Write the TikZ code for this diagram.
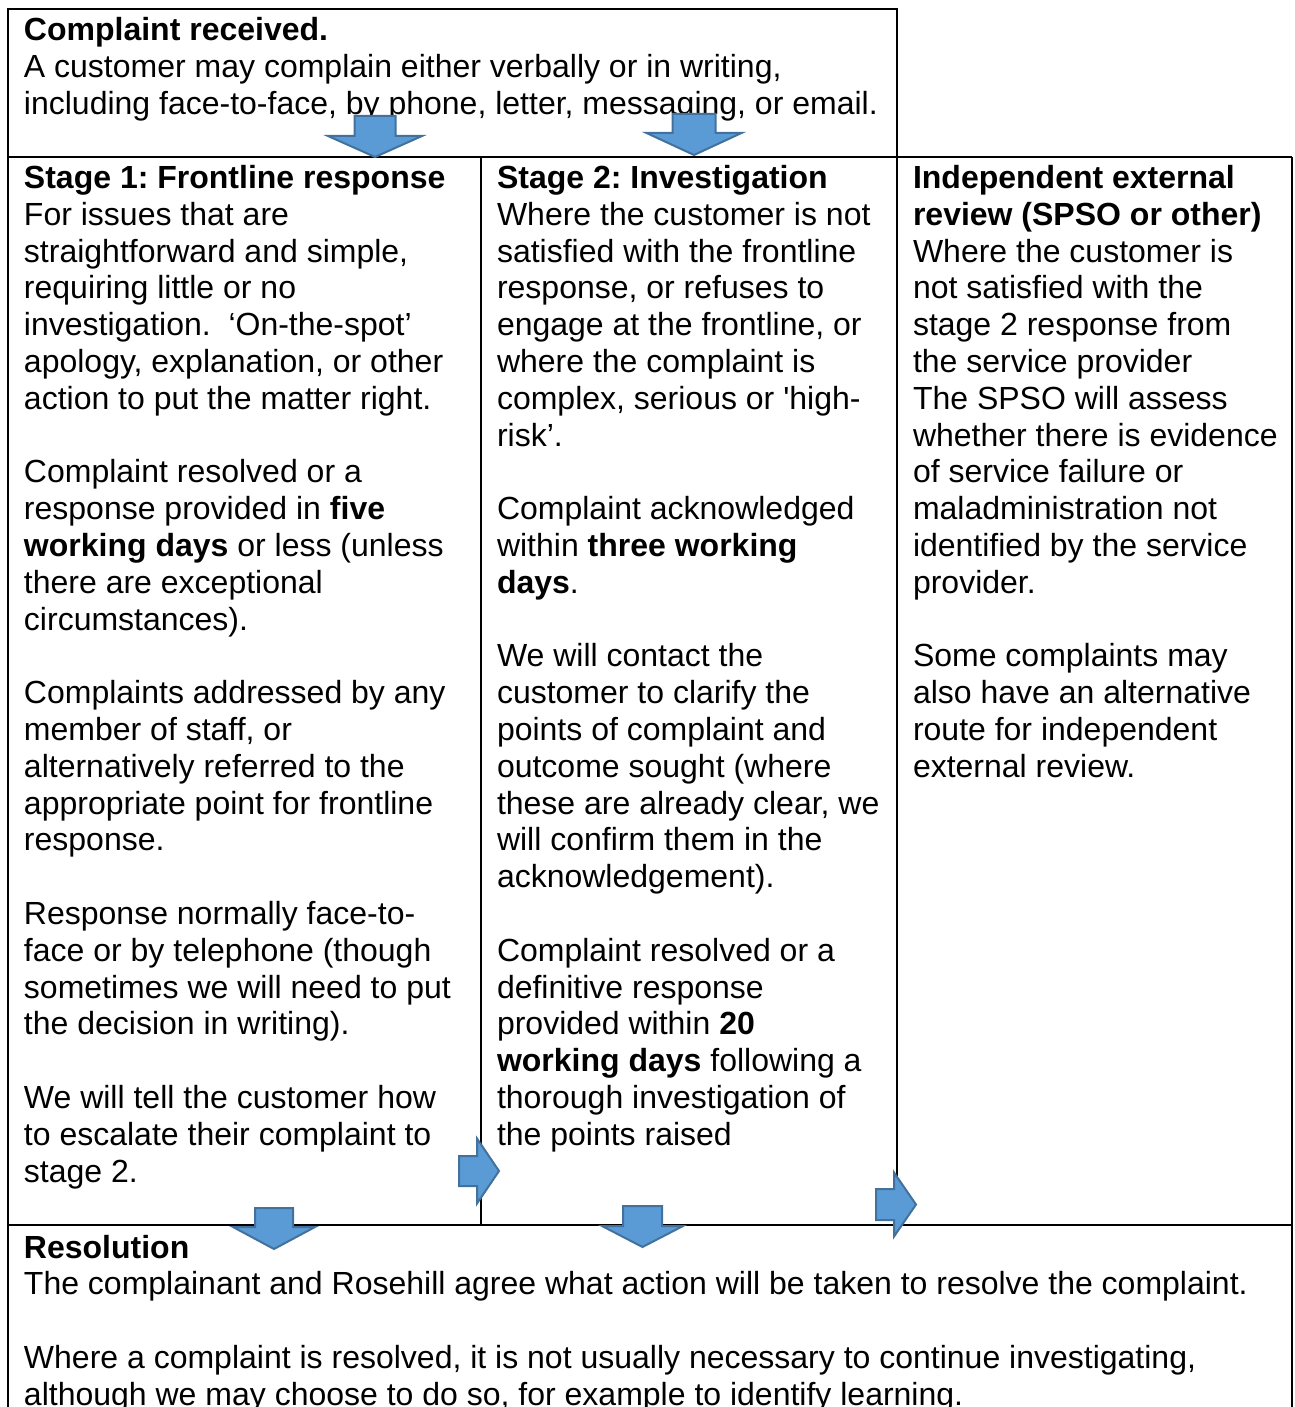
\documentclass[tikz,border=0pt]{standalone}
\usepackage{fontspec}
\setmainfont{Liberation Sans}
\frenchspacing
\definecolor{arrowfill}{HTML}{5B9BD5}
\definecolor{arrowline}{HTML}{41719C}

\begin{document}
\begin{tikzpicture}[x=0.375pt,y=-0.375pt,line width=0.75pt]
	\def \lsk{36.8}
	\def \toprow{41}
	\def \stagerow{188.5}
	\def \resrow{1258}
	\def \colone{23}
	\def \coltwo{496}
	\def \colthree{912}
	% base west sits on the last line, so count lines down from the first baseline
	\tikzstyle{txt}=[anchor=base west,inner sep=0pt,align=left,font=\fontsize{12pt}{13.8pt}\selectfont]
	\tikzstyle{blk}=[fill=arrowfill,draw=arrowline,line width=0.75pt,line join=miter]
	\useasboundingbox (0,0) rectangle (1294,1407);

	% frames
	\draw (8,9) rectangle (897,157);
	\draw (8,157) -- (1292,157);
	\draw (8,157) -- (8,1407);
	\draw (481,157) -- (481,1225);
	\draw (897,157) -- (897,1225);
	\draw (1292,157) -- (1292,1407);
	\draw (8,1225) -- (1292,1225);

	% complaint received
	\node[txt] (received) at (\colone,\toprow+2*\lsk) {\textbf{Complaint received.}\\
		A customer may complain either verbally or in writing,\\
		including face-to-face, by phone, letter, messaging, or email.};

	% stage 1
	\node[txt] (stageone) at (\colone,\stagerow+27*\lsk) {\textbf{Stage 1: Frontline response}\\
		For issues that are\\
		straightforward and simple,\\
		requiring little or no\\
		investigation.\ \ ‘On-the-spot’\\
		apology, explanation, or other\\
		action to put the matter right.\\[13.8pt]
		Complaint resolved or a\\
		response provided in \textbf{five}\\
		\textbf{working days} or less (unless\\
		there are exceptional\\
		circumstances).\\[13.8pt]
		Complaints addressed by any\\
		member of staff, or\\
		alternatively referred to the\\
		appropriate point for frontline\\
		response.\\[13.8pt]
		Response normally face-to-\\
		face or by telephone (though\\
		sometimes we will need to put\\
		the decision in writing).\\[13.8pt]
		We will tell the customer how\\
		to escalate their complaint to\\
		stage 2.};

	% stage 2
	\node[txt] (stagetwo) at (\coltwo,\stagerow+26*\lsk) {\textbf{Stage 2: Investigation}\\
		Where the customer is not\\
		satisfied with the frontline\\
		response, or refuses to\\
		engage at the frontline, or\\
		where the complaint is\\
		complex, serious or \textquotesingle high-\\
		risk’.\\[13.8pt]
		Complaint acknowledged\\
		within \textbf{three working}\\
		\textbf{days}.\\[13.8pt]
		We will contact the\\
		customer to clarify the\\
		points of complaint and\\
		outcome sought (where\\
		these are already clear, we\\
		will confirm them in the\\
		acknowledgement).\\[13.8pt]
		Complaint resolved or a\\
		definitive response\\
		provided within \textbf{20}\\
		\textbf{working days} following a\\
		thorough investigation of\\
		the points raised};

	% external review
	\node[txt] (external) at (\colthree,\stagerow+16*\lsk) {\textbf{Independent external}\\
		\textbf{review (SPSO or other)}\\
		Where the customer is\\
		not satisfied with the\\
		stage 2 response from\\
		the service provider\\
		The SPSO will assess\\
		whether there is evidence\\
		of service failure or\\
		maladministration not\\
		identified by the service\\
		provider.\\[13.8pt]
		Some complaints may\\
		also have an alternative\\
		route for independent\\
		external review.};

	% resolution
	\node[txt] (resolution) at (\colone,\resrow+4*\lsk) {\textbf{Resolution}\\
		The complainant and Rosehill agree what action will be taken to resolve the complaint.\\[13.8pt]
		Where a complaint is resolved, it is not usually necessary to continue investigating,\\
		although we may choose to do so, for example to identify learning.};

	% down arrows
	\foreach \cx/\ty/\hy/\by/\sw/\hw in {375/116/136/157/20.5/47, 694/114/133/155/21.5/47.5, 274/1208/1227/1249/19/41, 642.5/1206/1226/1247/19.5/40.5}
		\draw[blk] (\cx-\sw,\ty) -- (\cx+\sw,\ty) -- (\cx+\sw,\hy) -- (\cx+\hw,\hy) -- (\cx,\by) -- (\cx-\hw,\hy) -- (\cx-\sw,\hy) -- cycle;

	% right arrows
	\foreach \lx/\hx/\tx/\cy/\sw/\hw in {459/477/499/1171/15/32.5, 876/894/916/1204.5/15.5/32}
		\draw[blk] (\lx,\cy-\sw) -- (\hx,\cy-\sw) -- (\hx,\cy-\hw) -- (\tx,\cy) -- (\hx,\cy+\hw) -- (\hx,\cy+\sw) -- (\lx,\cy+\sw) -- cycle;
\end{tikzpicture}
\end{document}
